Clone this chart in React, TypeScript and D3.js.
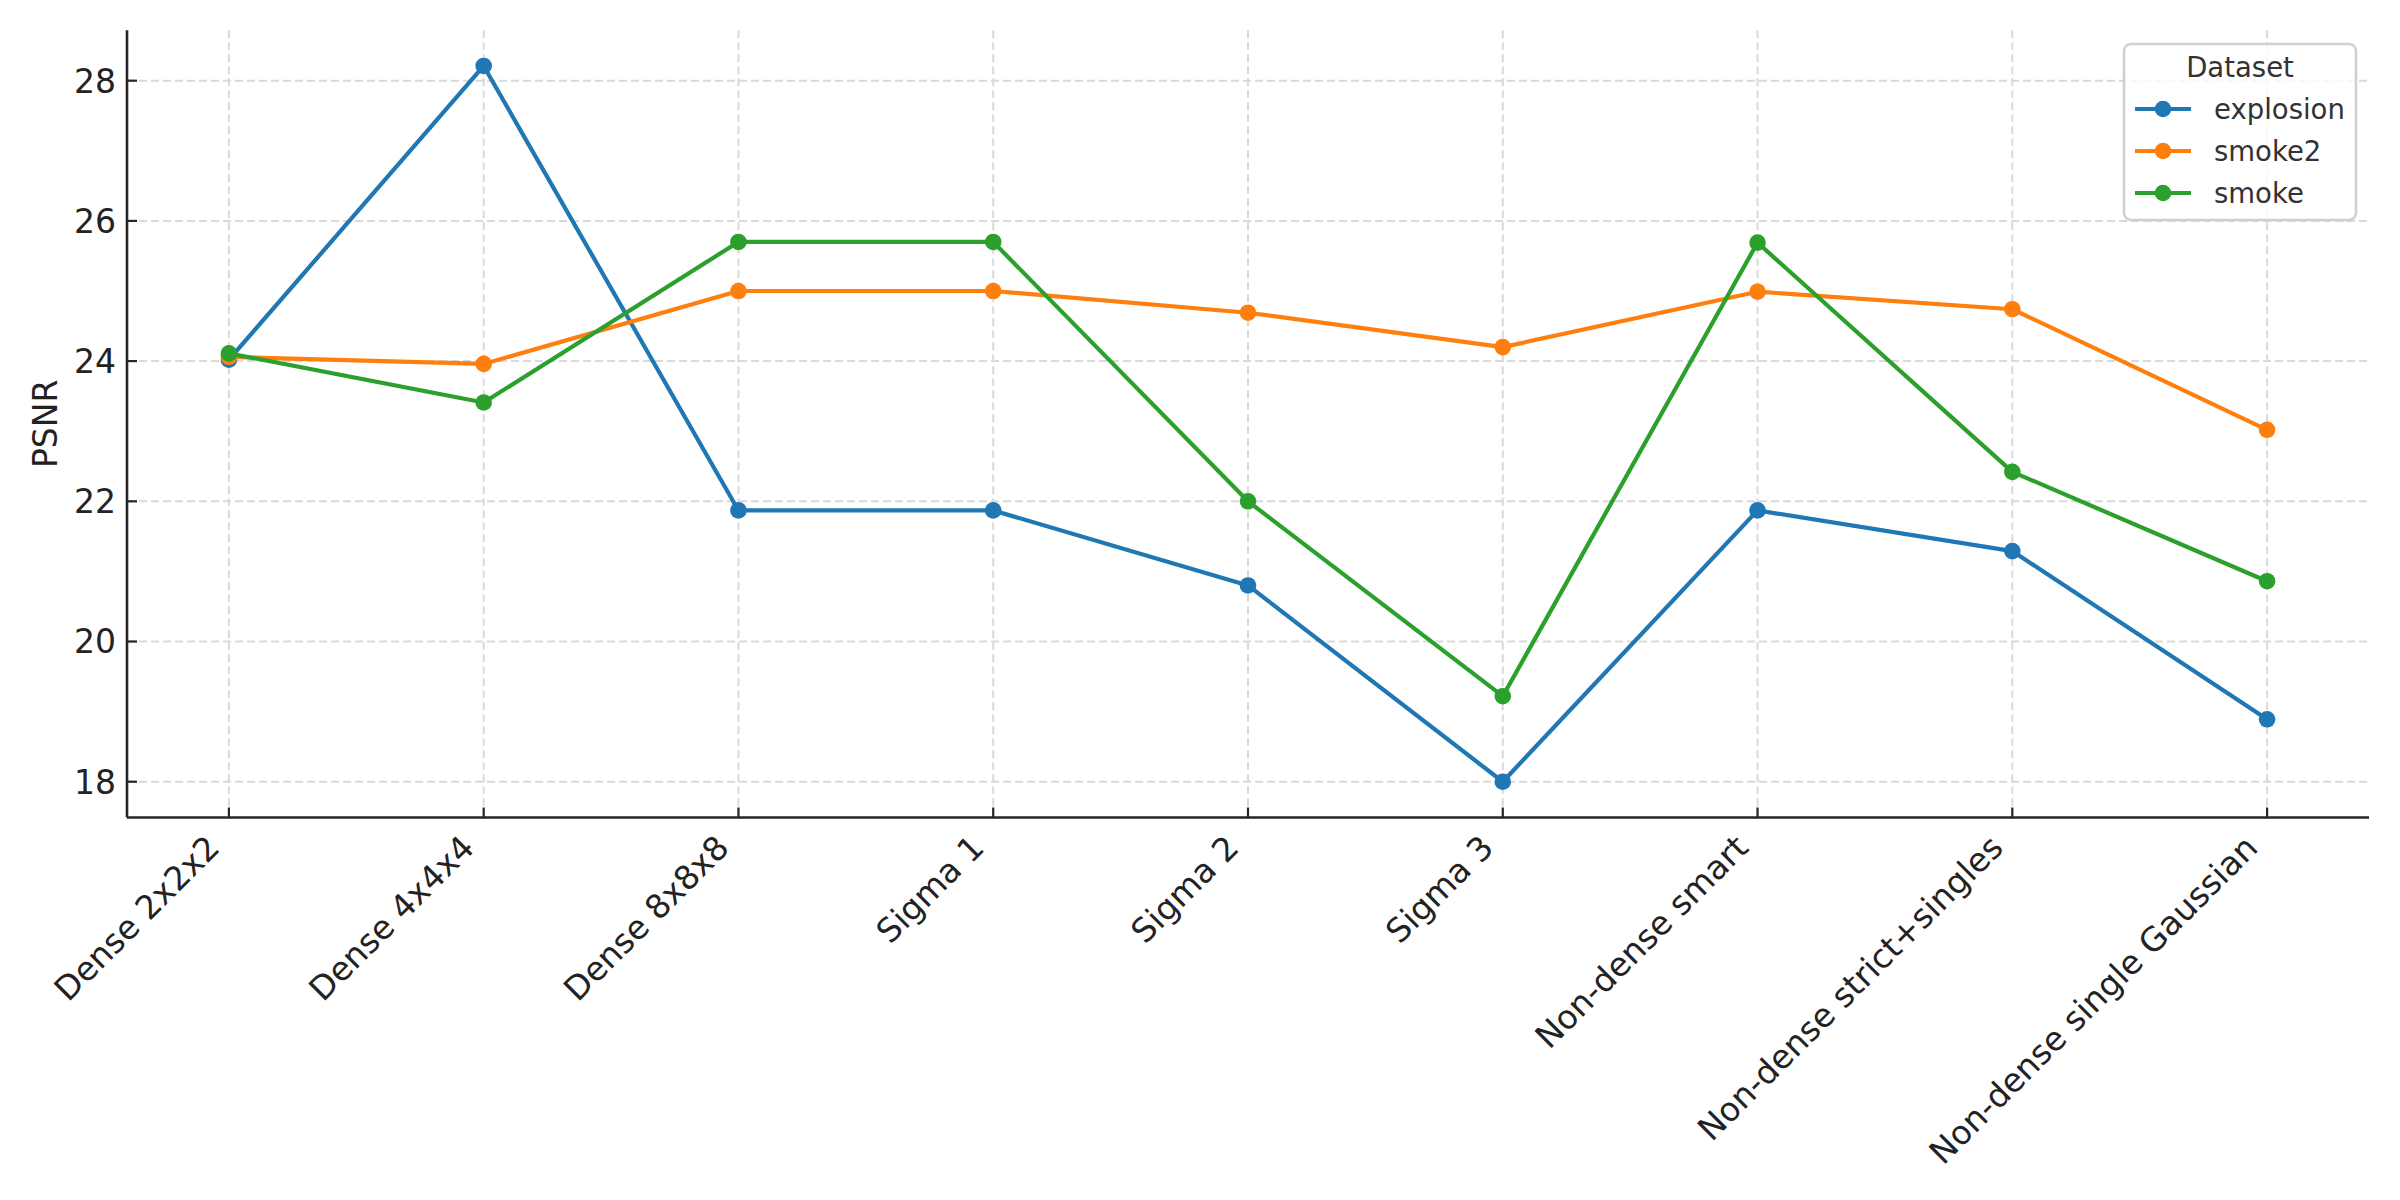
import { useEffect } from 'react';
import * as d3 from 'd3';

const categories = [
  'Dense 2x2x2',
  'Dense 4x4x4',
  'Dense 8x8x8',
  'Sigma 1',
  'Sigma 2',
  'Sigma 3',
  'Non-dense smart',
  'Non-dense strict+singles',
  'Non-dense single Gaussian',
];

const explosion = [24.02, 28.21, 21.87, 21.87, 20.8, 18.0, 21.87, 21.29, 18.89];
const smoke2 = [24.06, 23.96, 25.0, 25.0, 24.69, 24.2, 24.99, 24.74, 23.02];
const smoke = [24.11, 23.41, 25.7, 25.7, 22.0, 19.22, 25.69, 22.42, 20.86];

const seriesNames = ['explosion', 'smoke2', 'smoke'];
const seriesColors = ['#1f77b4', '#ff7f0e', '#2ca02c'];
const yTickValues = [18, 20, 22, 24, 26, 28];

const W = 2400;
const H = 1200;
const FONT = '"DejaVu Sans", Verdana, sans-serif';

export default function App() {
  useEffect(() => {
    document.body.style.margin = '0';
  }, []);

  const left = 127;
  const right = 2369;
  const top = 30.2;
  const bottom = 817.5;

  const allSeries = [explosion, smoke2, smoke];
  const lo = d3.min(allSeries, (s) => d3.min(s)) ?? 0;
  const hi = d3.max(allSeries, (s) => d3.max(s)) ?? 1;
  const pad = (hi - lo) * 0.05;

  const x = d3.scalePoint<string>().domain(categories).range([left, right]).padding(0.4);
  const y = d3.scaleLinear().domain([lo - pad, hi + pad]).range([bottom, top]);

  const line = d3
    .line<number>()
    .x((_, i) => x(categories[i]) ?? 0)
    .y((d) => y(d));

  const tickLen = 10;
  const gridColor = '#d9d9d9';
  const axisColor = '#262626';

  // legend layout
  const lg = { x: 2124, y: 44, w: 232, h: 176 };
  const rowY = [109, 151, 193];

  return (
    <div style={{ position: 'absolute', left: 0, top: 0 }}>
      <svg width={W} height={H} style={{ display: 'block', background: '#fff' }}>
        <rect width={W} height={H} fill="#fff" />

        {/* grid */}
        {yTickValues.map((t) => (
          <line
            key={`gy-${t}`}
            x1={left}
            x2={right}
            y1={y(t)}
            y2={y(t)}
            stroke={gridColor}
            strokeWidth={2}
            strokeDasharray="8,4"
          />
        ))}
        {categories.map((c) => (
          <line
            key={`gx-${c}`}
            x1={x(c)}
            x2={x(c)}
            y1={top}
            y2={bottom}
            stroke={gridColor}
            strokeWidth={2}
            strokeDasharray="8,4"
          />
        ))}

        {/* series */}
        {allSeries.map((s, si) => (
          <g key={seriesNames[si]}>
            <path
              d={line(s) ?? undefined}
              fill="none"
              stroke={seriesColors[si]}
              strokeWidth={4.2}
              strokeLinejoin="round"
            />
            {s.map((v, i) => (
              <circle
                key={i}
                cx={x(categories[i])}
                cy={y(v)}
                r={8.3}
                fill={seriesColors[si]}
              />
            ))}
          </g>
        ))}

        {/* spines */}
        <line x1={left} x2={left} y1={top} y2={bottom} stroke={axisColor} strokeWidth={2.6} />
        <line x1={left} x2={right} y1={bottom} y2={bottom} stroke={axisColor} strokeWidth={2.6} />

        {/* y ticks */}
        {yTickValues.map((t) => (
          <g key={`yt-${t}`}>
            <line x1={left} x2={left + tickLen} y1={y(t)} y2={y(t)} stroke={axisColor} strokeWidth={2.2} />
            <text
              x={left - 11}
              y={y(t)}
              dy="0.36em"
              textAnchor="end"
              fontSize={33}
              fontFamily={FONT}
              fill="#222"
            >
              {t}
            </text>
          </g>
        ))}

        {/* x ticks */}
        {categories.map((c) => {
          const cx = x(c) ?? 0;
          return (
            <g key={`xt-${c}`}>
              <line x1={cx} x2={cx} y1={bottom} y2={bottom - tickLen} stroke={axisColor} strokeWidth={2.2} />
              <text
                transform={`translate(${cx - 7.5},${849.6}) rotate(-45)`}
                textAnchor="end"
                fontSize={33}
                fontFamily={FONT}
                fill="#222"
              >
                {c}
              </text>
            </g>
          );
        })}

        {/* y label */}
        <text
          transform={`translate(${45},${(top + bottom) / 2}) rotate(-90)`}
          textAnchor="middle"
          dy="0.36em"
          fontSize={33}
          fontFamily={FONT}
          fill="#222"
        >
          PSNR
        </text>

        {/* legend */}
        <rect
          x={lg.x}
          y={lg.y}
          width={lg.w}
          height={lg.h}
          rx={7}
          fill="rgba(255,255,255,0.8)"
          stroke="#d0d0d0"
          strokeWidth={2.6}
        />
        <text
          x={lg.x + lg.w / 2}
          y={77}
          textAnchor="middle"
          fontSize={27.5}
          fontFamily={FONT}
          fill="#333"
        >
          Dataset
        </text>
        {seriesNames.map((n, i) => (
          <g key={`lg-${n}`}>
            <line x1={2135} x2={2191} y1={rowY[i]} y2={rowY[i]} stroke={seriesColors[i]} strokeWidth={4.2} />
            <circle cx={2163} cy={rowY[i]} r={8.3} fill={seriesColors[i]} />
            <text
              x={2214}
              y={rowY[i]}
              dy="0.36em"
              fontSize={27.5}
              fontFamily={FONT}
              fill="#333"
            >
              {n}
            </text>
          </g>
        ))}
      </svg>
    </div>
  );
}
